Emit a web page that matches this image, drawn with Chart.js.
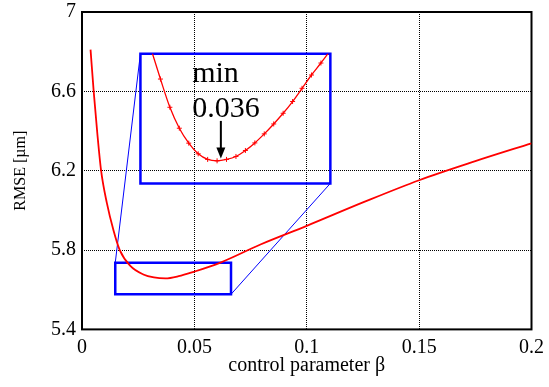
<!DOCTYPE html>
<html>
<head>
<meta charset="utf-8">
<script src="https://cdn.jsdelivr.net/npm/chart.js@4/dist/chart.umd.min.js"></script>
<style>
  html, body { margin: 0; padding: 0; background: #fff; }
  #wrap { width: 549px; height: 387px; }
</style>
</head>
<body>
<div id="wrap"><canvas id="rmseChart" width="549" height="387"></canvas></div>
<script>
// RMSE against the control parameter beta
const betaValues = [0.0038, 0.0052, 0.0068, 0.0085, 0.011, 0.014, 0.0168, 0.0215, 0.0273, 0.032,
                    0.0371, 0.043, 0.0496, 0.0616, 0.0794, 0.1, 0.125, 0.15, 0.175, 0.2];
const rmseValues = [6.81, 6.6, 6.39, 6.2, 6.04, 5.9, 5.8, 5.72, 5.677, 5.662,
                    5.657, 5.668, 5.69, 5.737, 5.828, 5.922, 6.04, 6.152, 6.248, 6.338];

// finer sampling around the minimum, shown in the magnified box
const zoomBeta = [0.0175, 0.02, 0.0225, 0.025, 0.0275, 0.03, 0.0325, 0.035, 0.0375, 0.04,
                  0.0425, 0.045, 0.0475, 0.05, 0.0525, 0.055, 0.0575, 0.06, 0.0625, 0.065];
const zoomRmse = [5.7477, 5.7111, 5.6767, 5.6512, 5.6330, 5.6200, 5.6132, 5.6115, 5.6132, 5.6168,
                  5.6241, 5.6333, 5.6443, 5.6564, 5.6694, 5.6837, 5.6998, 5.7160, 5.7306, 5.7460];
const minBeta = 0.036;

const xTicks = [0, 0.05, 0.1, 0.15, 0.2];
const yTicks = [5.4, 5.8, 6.2, 6.6, 7];

// region that gets magnified, and where the magnified box sits (main axes)
const windowBeta = [0.0148, 0.0663];
const windowRmse = [5.577, 5.736];
const boxBeta = [0.026, 0.1105];
const boxRmse = [6.136, 6.79];
// axis range inside the magnified box
const zoomRangeBeta = [0.0147, 0.065];
const zoomRangeRmse = [5.584, 5.742];

const RED = '#ff0000';
const BLUE = '#0000ff';
const SERIF = '"Liberation Serif", "Times New Roman", serif';

Chart.defaults.font.family = SERIF;
Chart.defaults.color = '#000';

const pts = (xs, ys) => xs.map((x, i) => ({ x: x, y: ys[i] }));
const rect = (xs, ys) => [
  { x: xs[0], y: ys[0] }, { x: xs[1], y: ys[0] }, { x: xs[1], y: ys[1] },
  { x: xs[0], y: ys[1] }, { x: xs[0], y: ys[0] }
];

// hidden scales that put the zoom range exactly on the box
const fitRange = (frame, range, lo, hi) => {
  const k = (range[1] - range[0]) / (frame[1] - frame[0]);
  return { min: range[0] + (lo - frame[0]) * k, max: range[0] + (hi - frame[0]) * k };
};
const x2Range = fitRange(boxBeta, zoomRangeBeta, xTicks[0], xTicks[xTicks.length - 1]);
const y2Range = fitRange(boxRmse, zoomRangeRmse, yTicks[0], yTicks[yTicks.length - 1]);

const frameLine = (data, width) => ({
  data: data,
  borderColor: BLUE,
  borderWidth: width,
  borderJoinStyle: 'miter',
  borderCapStyle: 'square',
  pointRadius: 0,
  tension: 0,
  xAxisID: 'x',
  yAxisID: 'y'
});

const insetPlugin = {
  id: 'inset',
  beforeDatasetsDraw(chart) {
    const { ctx, chartArea: a } = chart;
    ctx.save();
    ctx.lineWidth = 2;
    ctx.strokeStyle = '#000';
    ctx.strokeRect(a.left, a.top, a.right - a.left, a.bottom - a.top);
    ctx.restore();
  },
  beforeDatasetDraw(chart, args) {
    if (args.meta.xAxisID !== 'x2') return;
    const { x, y } = chart.scales;
    const ctx = chart.ctx;
    const l = x.getPixelForValue(boxBeta[0]);
    const r = x.getPixelForValue(boxBeta[1]);
    const t = y.getPixelForValue(boxRmse[1]);
    const b = y.getPixelForValue(boxRmse[0]);
    ctx.save();
    ctx.beginPath();
    ctx.rect(l, t, r - l, b - t);
    ctx.clip();
  },
  afterDatasetDraw(chart, args) {
    if (args.meta.xAxisID !== 'x2') return;
    chart.ctx.restore();
  },
  afterDatasetsDraw(chart) {
    const { x2, y2 } = chart.scales;
    const ctx = chart.ctx;
    ctx.save();
    ctx.fillStyle = '#000';
    ctx.strokeStyle = '#000';
    ctx.font = '30px ' + SERIF;
    ctx.textAlign = 'left';
    ctx.textBaseline = 'alphabetic';
    const tx = x2.getPixelForValue(0.0284);
    ctx.fillText('min', tx, y2.getPixelForValue(5.7075));
    ctx.fillText(String(minBeta), tx, y2.getPixelForValue(5.665));

    // arrow down to the minimum
    const ax = x2.getPixelForValue(minBeta);
    const ay0 = y2.getPixelForValue(5.6601);
    const ay1 = y2.getPixelForValue(5.6144);
    ctx.lineWidth = 2;
    ctx.beginPath();
    ctx.moveTo(ax, ay0);
    ctx.lineTo(ax, ay1 - 8);
    ctx.stroke();
    ctx.beginPath();
    ctx.moveTo(ax - 4.5, ay1 - 11);
    ctx.lineTo(ax + 4.5, ay1 - 11);
    ctx.lineTo(ax, ay1);
    ctx.closePath();
    ctx.fill();
    ctx.restore();
  }
};

const ctx = document.getElementById('rmseChart').getContext('2d');
const rmseChart = new Chart(ctx, {
  type: 'line',
  data: {
    datasets: [
      {
        data: pts(betaValues, rmseValues),
        borderColor: RED,
        borderWidth: 1.8,
        pointRadius: 0,
        cubicInterpolationMode: 'monotone',
        xAxisID: 'x',
        yAxisID: 'y'
      },
      {
        data: pts(zoomBeta, zoomRmse),
        borderColor: RED,
        borderWidth: 1.3,
        pointStyle: 'cross',
        pointRadius: 2.5,
        pointBorderWidth: 1,
        pointBorderColor: RED,
        pointBackgroundColor: RED,
        cubicInterpolationMode: 'monotone',
        xAxisID: 'x2',
        yAxisID: 'y2'
      },
      frameLine(rect(windowBeta, windowRmse), 2.5),
      frameLine(rect(boxBeta, boxRmse), 2.5),
      frameLine([{ x: windowBeta[0], y: windowRmse[1] }, { x: boxBeta[0], y: boxRmse[1] }], 1),
      frameLine([{ x: windowBeta[1], y: windowRmse[0] }, { x: boxBeta[1], y: boxRmse[0] }], 1)
    ]
  },
  options: {
    responsive: false,
    animation: false,
    layout: { padding: { top: 12, right: 17.5, left: 0, bottom: 0 } },
    plugins: {
      legend: { display: false },
      tooltip: { enabled: false }
    },
    scales: {
      x: {
        type: 'linear',
        position: 'bottom',
        min: xTicks[0],
        max: xTicks[xTicks.length - 1],
        afterBuildTicks: s => { s.ticks = xTicks.map(v => ({ value: v })); },
        afterFit: s => { s.height = 57.6; s.paddingLeft = 0; s.paddingRight = 0; },
        ticks: { font: { size: 20 }, padding: 6, maxRotation: 0, callback: v => String(v) },
        grid: { color: '#000', lineWidth: 1, drawTicks: false },
        border: { display: false, dash: [1, 1] },
        title: { display: true, text: 'control parameter β', font: { size: 20 }, padding: { top: 0, bottom: 9 } }
      },
      y: {
        type: 'linear',
        position: 'left',
        min: yTicks[0],
        max: yTicks[yTicks.length - 1],
        afterBuildTicks: s => { s.ticks = yTicks.map(v => ({ value: v })); },
        afterFit: s => { s.width = 82; s.paddingTop = 0; s.paddingBottom = 0; },
        ticks: { font: { size: 20 }, padding: 6, callback: v => String(v) },
        grid: { color: '#000', lineWidth: 1, drawTicks: false },
        border: { display: false, dash: [1, 1] },
        title: { display: true, text: 'RMSE [µm]', font: { size: 16 }, padding: { top: 11, bottom: 0 } }
      },
      x2: { type: 'linear', display: false, min: x2Range.min, max: x2Range.max },
      y2: { type: 'linear', display: false, position: 'left', min: y2Range.min, max: y2Range.max }
    }
  },
  plugins: [insetPlugin]
});
</script>
</body>
</html>
